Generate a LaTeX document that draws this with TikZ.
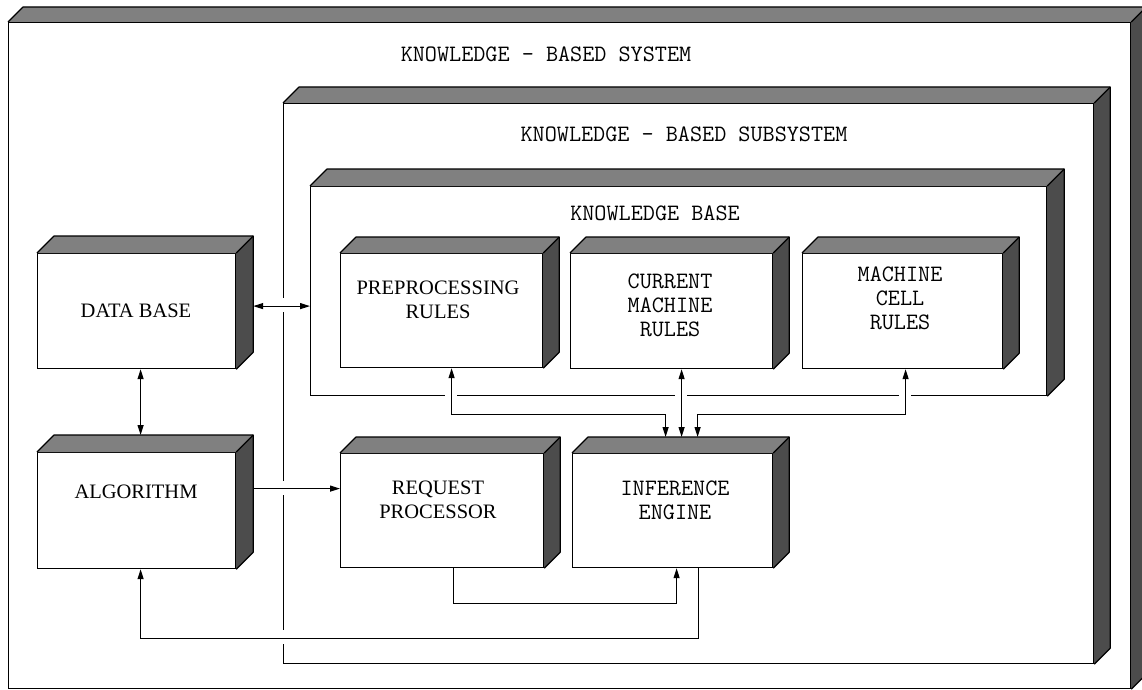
\documentclass[tikz,border=0pt]{standalone}
\usepackage{fontspec}
\setmainfont{Liberation Serif}
\usetikzlibrary{calc,arrows.meta}
\newcommand\tdbox[2]{%
  \fill[topface] (#1.north west) -- ++(#2,-#2) -- ($(#1.north east)+(#2,-#2)$) -- (#1.north east) -- cycle;
  \fill[sideface] (#1.north east) -- ++(#2,-#2) -- ($(#1.south east)+(#2,-#2)$) -- (#1.south east) -- cycle;
  \draw[edge] (#1.north west) -- ++(#2,-#2) -- ($(#1.north east)+(#2,-#2)$) -- ($(#1.south east)+(#2,-#2)$) -- (#1.south east);
  \draw[edge] (#1.north east) -- ++(#2,-#2);
}
\tikzset{
  topface/.style={fill=black!50},
  sideface/.style={fill=black!70},
  edge/.style={line width=1.2pt, line join=round},
  frontbox/.style={draw, fill=white, line width=1.2pt, inner sep=0pt, anchor=north west},
  mono/.style={font=\fontsize{23.5}{24}\selectfont\ttfamily, align=center, inner sep=0pt},
  serif/.style={font=\fontsize{20.5}{24}\selectfont, align=center, inner sep=0pt},
  conn/.style={line width=1.2pt},
  tip/.style={-{Triangle[length=10pt,width=6pt]}},
  tips/.style={{Triangle[length=10pt,width=6pt]}-{Triangle[length=10pt,width=6pt]}},
}
\begin{document}
\begin{tikzpicture}[x=1pt,y=-1pt]
\clip (0,0) rectangle (1142,690);
\fill[white] (0,0) rectangle (1142,690);
% outer
\node[frontbox, minimum width=1122pt, minimum height=666pt] (sys) at (8,22) {};
\tdbox{sys}{15}
\node[mono] (syst) at (546,54) {KNOWLEDGE - BASED SYSTEM};
% subsystem
\node[frontbox, minimum width=810pt, minimum height=560pt] (sub) at (283,103) {};
\tdbox{sub}{16}
\node[mono] (subt) at (684,134) {KNOWLEDGE - BASED SUBSYSTEM};
% knowledge base
\node[frontbox, minimum width=736pt, minimum height=209pt] (kb) at (310,186) {};
\tdbox{kb}{17}
\node[mono] (kbt) at (655,213) {KNOWLEDGE BASE};
% data base and algorithm
\node[frontbox, minimum width=198pt, minimum height=115pt] (db) at (37,253) {};
\tdbox{db}{17}
\node[serif] (dbt) at (136,311) {DATA BASE};
\node[frontbox, minimum width=198pt, minimum height=116pt] (alg) at (37,452) {};
\tdbox{alg}{17}
\node[serif] (algt) at (136,492) {ALGORITHM};
% rule boxes
\node[frontbox, minimum width=202pt, minimum height=114pt] (pre) at (340,253) {};
\tdbox{pre}{16}
\node[serif] (pret) at (438,300) {PREPROCESSING\\RULES};
\node[frontbox, minimum width=202pt, minimum height=115pt] (cur) at (570,253) {};
\tdbox{cur}{16}
\node[mono] (curt) at (670,305) {CURRENT\\MACHINE\\RULES};
\node[frontbox, minimum width=200pt, minimum height=115pt] (mc) at (802,253) {};
\tdbox{mc}{16}
\node[mono] (mct) at (900,298) {MACHINE\\CELL\\RULES};
% request processor, inference engine
\node[frontbox, minimum width=203pt, minimum height=114pt] (rp) at (340,453) {};
\tdbox{rp}{16}
\node[serif] (rpt) at (438,500) {REQUEST\\PROCESSOR};
\node[frontbox, minimum width=200pt, minimum height=114pt] (ie) at (572,453) {};
\tdbox{ie}{16}
\node[mono] (iet) at (675,500) {INFERENCE\\ENGINE};
% gaps at crossings
\fill[white] (280,298) rectangle (286,312);
\fill[white] (280,481) rectangle (286,495);
\fill[white] (280,630) rectangle (286,644);
\fill[white] (445,392) rectangle (457,398);
\fill[white] (675,392) rectangle (687,398);
\fill[white] (899,392) rectangle (911,398);
% connector end points
\coordinate (dbr) at ([xshift=17pt,yshift=5pt]db.east);
\coordinate (algr) at ([xshift=17pt,yshift=22pt]alg.east);
% connectors
\draw[conn,tips] (dbr) -- (dbr -| kb.west);
\draw[conn,tips] ([xshift=4pt]db.south) -- ([xshift=4pt,yshift=17pt]alg.north);
\draw[conn,tip] (algr) -- (algr -| rp.west);
\draw[conn,tip] ([xshift=11.5pt]rp.south) -- ++(0,35) -| ([xshift=4pt]ie.south);
\draw[conn,tip] ([xshift=26pt]ie.south) -- ++(0,70) -| ([xshift=4pt]alg.south);
\draw[conn,tips] ([xshift=10pt]pre.south) -- ++(0,46) -| ([xshift=-7pt,yshift=16pt]ie.north);
\draw[conn,tips] ([xshift=10pt]cur.south) -- ([xshift=9pt,yshift=16pt]ie.north);
\draw[conn,tips] ([xshift=3pt]mc.south) -- ++(0,45) -| ([xshift=25pt,yshift=16pt]ie.north);
\end{tikzpicture}
\end{document}
